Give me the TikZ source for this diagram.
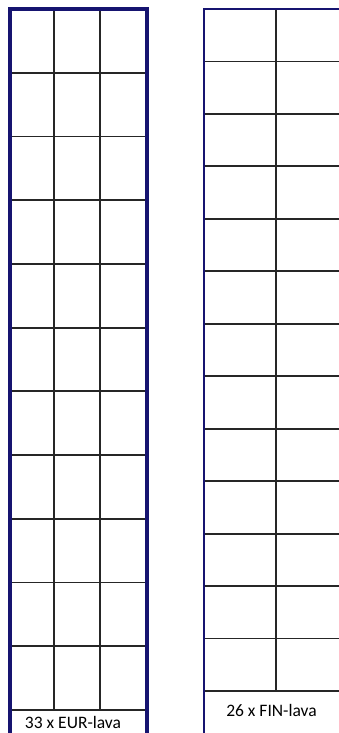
\documentclass[tikz,border=0pt]{standalone}
\usepackage{fontspec}
\setmainfont{Carlito}
\usepackage{tikz}
\usetikzlibrary{positioning}

\definecolor{rand}{RGB}{22,20,112}
\definecolor{ruutu}{RGB}{38,38,38}

\begin{document}
\begin{tikzpicture}[x=1pt,y=-1pt,
    reuna/.style={draw=rand,line width=3.4pt},
    viiva/.style={draw=ruutu,line width=1.8pt},
    teksti/.style={font=\fontsize{17.5}{20}\selectfont,inner sep=0pt}]
  \clip (0,0) rectangle (339,733); % 画像の範囲
  \fill[white] (0,0) rectangle (339,733); % 背景
  % 左側: EUR-lava 11 x 3
  \foreach \i in {1,...,11}
    \draw[viiva] (11,{9+63.73*\i}) -- (147,{9+63.73*\i}); % 横の線
  \draw[viiva] (54,9) -- (54,710); % 縦の線
  \draw[viiva] (100,9) -- (100,710); % 縦の線
  \draw[reuna] (10,733) -- (10,9) -- (147,9) -- (147,733); % 左の枠
  \node[teksti] (eur) at (73,722) {33 x EUR-lava}; % 左の説明
  % 右側: FIN-lava 13 x 2
  \foreach \i in {1,...,13}
    \draw[viiva] (205,{9+52.46*\i}) -- (345,{9+52.46*\i}); % 横の線
  \draw[viiva] (276,9) -- (276,691); % 縦の線
  \draw[reuna,line width=2.5pt] (204,733) -- (204,9) -- (345,9); % 右の枠
  \node[teksti] (fin) at (271.5,710) {26 x FIN-lava}; % 右の説明
\end{tikzpicture}
\end{document}
